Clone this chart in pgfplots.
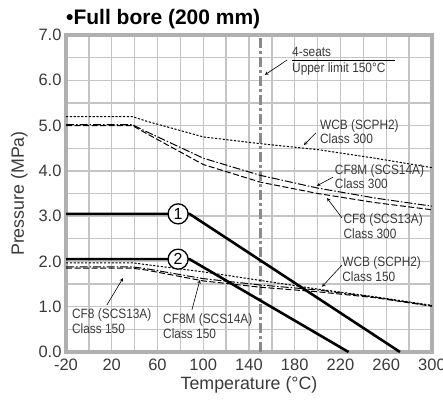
\documentclass[border=0pt]{standalone}
\usepackage{pgfplots}
\pgfplotsset{compat=1.18}
\usepackage{fontspec}
\setmainfont{Liberation Sans}
\newfontfamily\annfont[FakeStretch=0.88]{Liberation Sans}
\definecolor{gridc}{HTML}{C4C4C4}
\definecolor{framec}{HTML}{B0B0B0}
\definecolor{txt}{HTML}{3A3A3A}
\definecolor{vline}{HTML}{8A8A8A}
\begin{document}
\begin{tikzpicture}
\begin{axis}[
  scale only axis, width=366pt, height=317pt,
  xmin=-20, xmax=300, ymin=0, ymax=7,
  xtick={-20,20,...,300},
  xticklabels={-20,20,60,100,140,180,220,260,300},
  minor xtick={0,40,...,280},
  ytick={0,1,...,7},
  minor ytick={0.5,1.5,...,6.5},
  grid=both,
  major grid style={draw=gridc, line width=1.4pt},
  minor grid style={draw=gridc, line width=1.4pt},
  major tick length=0pt, minor tick length=0pt,
  axis line style={framec, line width=3.4pt},
  /pgf/number format/assume math mode=true,
  yticklabel style={/pgf/number format/fixed, /pgf/number format/fixed zerofill, /pgf/number format/precision=1, xshift=-1pt},
  ticklabel style={font=\fontsize{16.5}{17}\selectfont, text=txt},
  xticklabel style={yshift=-3pt},
  xlabel={Temperature (°C)}, ylabel={Pressure (MPa)},
  label style={font=\fontsize{17.8}{19}\selectfont, text=txt},
  xlabel style={yshift=0pt},
  ylabel style={yshift=4pt},
  clip=false,
]
% vertical upper limit line
\addplot[vline, line width=2.8pt, dash pattern=on 10pt off 3pt on 3pt off 3pt] coordinates {(150,0) (150,7)};
% WCB class 300
\addplot[black, line width=1pt, dash pattern=on 2.2pt off 1.6pt] coordinates {(-20,5.2)(38,5.2)(50,5.1)(100,4.75)(150,4.6)(200,4.47)(250,4.28)(300,4.07)};
% CF8M class 300
\addplot[black, line width=1pt, dash pattern=on 8pt off 2pt on 1.5pt off 2pt] coordinates {(-20,5.02)(38,5.02)(50,4.87)(100,4.28)(150,3.9)(200,3.62)(250,3.4)(300,3.22)};
% CF8 class 300
\addplot[black, line width=1pt, dash pattern=on 6pt off 2.5pt] coordinates {(-20,5.0)(38,5.0)(50,4.83)(100,4.14)(150,3.75)(200,3.5)(250,3.3)(300,3.14)};
% WCB class 150
\addplot[black, line width=1pt, dash pattern=on 2.2pt off 1.6pt] coordinates {(-20,1.97)(38,1.97)(50,1.93)(100,1.77)(150,1.58)(200,1.39)(250,1.22)(300,1.03)};
% CF8M class 150
\addplot[black, line width=1pt, dash pattern=on 8pt off 2pt on 1.5pt off 2pt] coordinates {(-20,1.88)(38,1.88)(50,1.84)(100,1.62)(150,1.48)(200,1.37)(250,1.21)(300,1.02)};
% CF8 class 150
\addplot[black, line width=1pt, dash pattern=on 6pt off 2.5pt] coordinates {(-20,1.85)(38,1.85)(50,1.81)(100,1.57)(150,1.43)(200,1.33)(250,1.2)(300,1.01)};
% limit lines 1 and 2
\addplot[black, line width=2.6pt] coordinates {(-20,3.05)(88,3.05)(272,0)};
\addplot[black, line width=2.6pt] coordinates {(-20,2.05)(88,2.05)(227,0)};
% circled numbers
\node[circle, draw=black, fill=white, line width=1.3pt, minimum size=20pt, inner sep=0pt, font=\fontsize{16}{16}\selectfont] at (axis cs:78,3.05) {1};
\node[circle, draw=black, fill=white, line width=1.3pt, minimum size=20pt, inner sep=0pt, font=\fontsize{16}{16}\selectfont] at (axis cs:78,2.05) {2};
% title
\node[anchor=base west, inner sep=0pt, font=\fontsize{21}{22}\selectfont\bfseries, text=black] at ([yshift=10pt]rel axis cs:0,1) {•Full bore (200 mm)};
% annotations
\tikzset{ann/.style={anchor=north west, align=left, inner sep=0pt, font=\annfont\fontsize{13.5}{14.5}\selectfont, text=txt},
         arr/.style={-stealth, line width=0.6pt, black}}
\node[anchor=base west, inner sep=0pt, font=\annfont\fontsize{13.5}{14.5}\selectfont, text=txt] at ([yshift=3pt]axis cs:177.6,6.45) {4-seats};
\draw[line width=0.7pt] (axis cs:177.6,6.45) -- (axis cs:267.6,6.45);
\node[anchor=north west, inner sep=0pt, font=\annfont\fontsize{13.5}{14.5}\selectfont, text=txt] at ([yshift=-3pt]axis cs:177.6,6.45) {Upper limit 150°C};
\draw[arr] (axis cs:173.4,6.45) -- (axis cs:153.9,6.12);

\node[ann] at (axis cs:202,5.14) {WCB (SCPH2)\\Class 300};
\draw[arr] (axis cs:198.5,4.84) -- (axis cs:188,4.57);

\node[ann] at (axis cs:215,4.15) {CF8M (SCS14A)\\Class 300};
\draw[arr] (axis cs:213.4,3.86) -- (axis cs:199.4,3.67);

\node[ann] at (axis cs:222.5,3.05) {CF8 (SCS13A)\\Class 300};
\draw[arr] (axis cs:221.3,2.96) -- (axis cs:208.2,3.40);

\node[ann] at (axis cs:221.5,2.10) {WCB (SCPH2)\\Class 150};
\draw[arr] (axis cs:221.3,1.92) -- (axis cs:203.8,1.44);

\node[ann] at (axis cs:-14.8,0.95) {CF8 (SCS13A)\\Class 150};
\draw[arr] (axis cs:15.8,1.04) -- (axis cs:29.8,1.63);

\node[ann] at (axis cs:64.8,0.84) {CF8M (SCS14A)\\Class 150};
\draw[arr] (axis cs:90.1,0.93) -- (axis cs:97.1,1.59);
\end{axis}
\pgfresetboundingbox
\useasboundingbox (current axis.south west) ++(-66pt,-51pt) rectangle ++(443pt,403pt);
\end{tikzpicture}
\end{document}
